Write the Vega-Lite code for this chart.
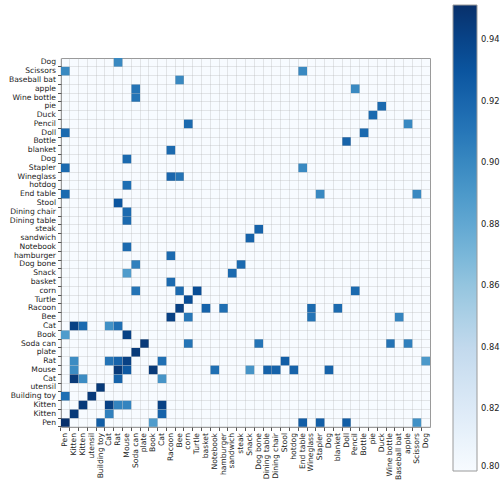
{
  "$schema": "https://vega.github.io/schema/vega-lite/v6.json",
  "width": 369,
  "height": 369,
  "autosize": "none",
  "padding": {"left": 61, "top": 58, "right": 74, "bottom": 60},
  "background": "white",
  "config": {
    "font": "DejaVu Sans",
    "view": {"stroke": "#9a9a9a", "strokeWidth": 1, "fill": "#f7fbff"}
  },
  "data": {
    "values": [
      {"row": 0, "col": 6, "value": 0.9},
      {"row": 1, "col": 0, "value": 0.9},
      {"row": 1, "col": 27, "value": 0.9},
      {"row": 2, "col": 13, "value": 0.9},
      {"row": 3, "col": 8, "value": 0.912},
      {"row": 3, "col": 33, "value": 0.9},
      {"row": 4, "col": 8, "value": 0.912},
      {"row": 5, "col": 36, "value": 0.918},
      {"row": 6, "col": 35, "value": 0.918},
      {"row": 7, "col": 14, "value": 0.918},
      {"row": 7, "col": 39, "value": 0.9},
      {"row": 8, "col": 0, "value": 0.918},
      {"row": 8, "col": 34, "value": 0.918},
      {"row": 9, "col": 32, "value": 0.922},
      {"row": 10, "col": 12, "value": 0.918},
      {"row": 11, "col": 7, "value": 0.918},
      {"row": 12, "col": 0, "value": 0.918},
      {"row": 12, "col": 27, "value": 0.9},
      {"row": 13, "col": 12, "value": 0.92},
      {"row": 13, "col": 13, "value": 0.912},
      {"row": 14, "col": 7, "value": 0.915},
      {"row": 15, "col": 0, "value": 0.918},
      {"row": 15, "col": 29, "value": 0.9},
      {"row": 15, "col": 40, "value": 0.9},
      {"row": 16, "col": 6, "value": 0.93},
      {"row": 17, "col": 7, "value": 0.918},
      {"row": 18, "col": 7, "value": 0.918},
      {"row": 19, "col": 22, "value": 0.922},
      {"row": 20, "col": 21, "value": 0.922},
      {"row": 21, "col": 7, "value": 0.918},
      {"row": 22, "col": 12, "value": 0.918},
      {"row": 23, "col": 8, "value": 0.905},
      {"row": 23, "col": 20, "value": 0.918},
      {"row": 24, "col": 7, "value": 0.888},
      {"row": 24, "col": 19, "value": 0.918},
      {"row": 25, "col": 12, "value": 0.918},
      {"row": 26, "col": 8, "value": 0.912},
      {"row": 26, "col": 13, "value": 0.918},
      {"row": 26, "col": 15, "value": 0.935},
      {"row": 26, "col": 33, "value": 0.918},
      {"row": 27, "col": 14, "value": 0.935},
      {"row": 28, "col": 13, "value": 0.942},
      {"row": 28, "col": 16, "value": 0.922},
      {"row": 28, "col": 18, "value": 0.915},
      {"row": 28, "col": 28, "value": 0.918},
      {"row": 28, "col": 31, "value": 0.918},
      {"row": 29, "col": 12, "value": 0.942},
      {"row": 29, "col": 14, "value": 0.91},
      {"row": 29, "col": 28, "value": 0.912},
      {"row": 29, "col": 38, "value": 0.903},
      {"row": 30, "col": 1, "value": 0.942},
      {"row": 30, "col": 2, "value": 0.918},
      {"row": 30, "col": 5, "value": 0.895},
      {"row": 30, "col": 6, "value": 0.915},
      {"row": 31, "col": 0, "value": 0.888},
      {"row": 31, "col": 7, "value": 0.942},
      {"row": 32, "col": 9, "value": 0.946},
      {"row": 32, "col": 14, "value": 0.912},
      {"row": 32, "col": 22, "value": 0.912},
      {"row": 32, "col": 37, "value": 0.912},
      {"row": 32, "col": 39, "value": 0.905},
      {"row": 33, "col": 8, "value": 0.946},
      {"row": 34, "col": 1, "value": 0.898},
      {"row": 34, "col": 5, "value": 0.912},
      {"row": 34, "col": 6, "value": 0.922},
      {"row": 34, "col": 7, "value": 0.942},
      {"row": 34, "col": 11, "value": 0.915},
      {"row": 34, "col": 25, "value": 0.925},
      {"row": 34, "col": 41, "value": 0.89},
      {"row": 35, "col": 1, "value": 0.898},
      {"row": 35, "col": 6, "value": 0.946},
      {"row": 35, "col": 7, "value": 0.928},
      {"row": 35, "col": 10, "value": 0.946},
      {"row": 35, "col": 17, "value": 0.915},
      {"row": 35, "col": 21, "value": 0.893},
      {"row": 35, "col": 23, "value": 0.922},
      {"row": 35, "col": 24, "value": 0.922},
      {"row": 35, "col": 26, "value": 0.922},
      {"row": 35, "col": 30, "value": 0.922},
      {"row": 36, "col": 1, "value": 0.946},
      {"row": 36, "col": 2, "value": 0.898},
      {"row": 36, "col": 6, "value": 0.922},
      {"row": 36, "col": 11, "value": 0.893},
      {"row": 37, "col": 4, "value": 0.946},
      {"row": 38, "col": 0, "value": 0.915},
      {"row": 38, "col": 3, "value": 0.946},
      {"row": 39, "col": 2, "value": 0.946},
      {"row": 39, "col": 5, "value": 0.942},
      {"row": 39, "col": 6, "value": 0.903},
      {"row": 39, "col": 7, "value": 0.903},
      {"row": 39, "col": 11, "value": 0.942},
      {"row": 40, "col": 1, "value": 0.946},
      {"row": 40, "col": 5, "value": 0.905},
      {"row": 40, "col": 11, "value": 0.922},
      {"row": 41, "col": 0, "value": 0.951},
      {"row": 41, "col": 4, "value": 0.925},
      {"row": 41, "col": 10, "value": 0.888},
      {"row": 41, "col": 27, "value": 0.925},
      {"row": 41, "col": 29, "value": 0.925},
      {"row": 41, "col": 32, "value": 0.925},
      {"row": 41, "col": 40, "value": 0.895}
    ]
  },
  "mark": {"type": "rect"},
  "encoding": {
    "x": {
      "field": "col",
      "type": "ordinal",
      "scale": {"domain": [0,1,2,3,4,5,6,7,8,9,10,11,12,13,14,15,16,17,18,19,20,21,22,23,24,25,26,27,28,29,30,31,32,33,34,35,36,37,38,39,40,41], "paddingInner": 0, "paddingOuter": 0},
      "axis": {
        "title": null,
        "bandPosition": 0,
        "labelExpr": "['Pen','Kitten','Kitten','utensil','Building toy','Cat','Rat','Mouse','Soda can','plate','Book','Cat','Racoon','Bee','corn','Turtle','basket','Notebook','hamburger','sandwich','steak','Snack','Dog bone','Dining table','Dining chair','Stool','hotdog','End table','Wineglass','Stapler','Dog','blanket','Doll','Pencil','Bottle','pie','Duck','Wine bottle','Baseball bat','apple','Scissors','Dog'][datum.value]",
        "labelAngle": -90,
        "labelAlign": "right",
        "labelBaseline": "middle",
        "labelFontSize": 7.6,
        "labelColor": "#222222",
        "labelPadding": 2,
        "labelOverlap": false,
        "tickSize": 3.5,
        "tickColor": "#555555",
        "domain": false,
        "grid": true,
        "gridColor": "#b0b0b0",
        "gridOpacity": 0.3,
        "zindex": 1
      }
    },
    "y": {
      "field": "row",
      "type": "ordinal",
      "scale": {"domain": [0,1,2,3,4,5,6,7,8,9,10,11,12,13,14,15,16,17,18,19,20,21,22,23,24,25,26,27,28,29,30,31,32,33,34,35,36,37,38,39,40,41], "paddingInner": 0, "paddingOuter": 0},
      "axis": {
        "title": null,
        "bandPosition": 1,
        "labelExpr": "['Dog','Scissors','Baseball bat','apple','Wine bottle','pie','Duck','Pencil','Doll','Bottle','blanket','Dog','Stapler','Wineglass','hotdog','End table','Stool','Dining chair','Dining table','steak','sandwich','Notebook','hamburger','Dog bone','Snack','basket','corn','Turtle','Racoon','Bee','Cat','Book','Soda can','plate','Rat','Mouse','Cat','utensil','Building toy','Kitten','Kitten','Pen'][datum.value]",
        "labelFontSize": 7.6,
        "labelColor": "#222222",
        "labelPadding": 2,
        "labelOverlap": false,
        "tickSize": 3.5,
        "tickColor": "#555555",
        "domain": false,
        "grid": true,
        "gridColor": "#b0b0b0",
        "gridOpacity": 0.3,
        "zindex": 1
      }
    },
    "color": {
      "field": "value",
      "type": "quantitative",
      "scale": {
        "domain": [0.8, 0.8189375, 0.837875, 0.8568125, 0.87575, 0.8946875, 0.913625, 0.9325625, 0.9515],
        "range": ["#f7fbff", "#deebf7", "#c6dbef", "#9ecae1", "#6baed6", "#4292c6", "#2171b5", "#08519c", "#08306b"],
        "interpolate": "rgb",
        "clamp": true
      },
      "legend": {
        "title": null,
        "orient": "none",
        "legendX": 392,
        "legendY": -53,
        "direction": "vertical",
        "gradientLength": 466,
        "gradientThickness": 24,
        "gradientStrokeColor": "#9a9a9a",
        "gradientStrokeWidth": 1,
        "values": [0.8, 0.82, 0.84, 0.86, 0.88, 0.9, 0.92, 0.94],
        "format": ".2f",
        "labelFontSize": 8.3,
        "labelColor": "#222222",
        "labelOffset": 4,
        "labelOverlap": false
      }
    }
  }
}
